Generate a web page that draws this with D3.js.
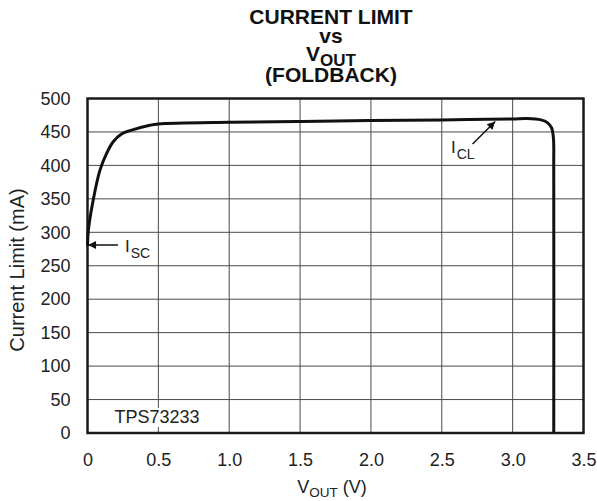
<!DOCTYPE html>
<html><head><meta charset="utf-8">
<script src="https://cdn.jsdelivr.net/npm/d3@7"></script>
<style>
html,body{margin:0;padding:0;background:#fff;}
svg{display:block;font-family:"Liberation Sans",Arial,sans-serif;}
</style></head>
<body>
<svg id="chart" width="597" height="501"></svg>
<script>
// ---- data ----
const vout   = [0, 0.006, 0.04, 0.088, 0.135, 0.18, 0.24, 0.30, 0.44, 0.5, 1.0, 1.5, 2.0, 2.5, 3.0, 3.1, 3.2, 3.245, 3.275, 3.288, 3.29, 3.29];
const ilimit = [280, 303, 348, 393, 418, 435, 447, 452, 460, 462, 464.5, 465.5, 467, 468, 469.5, 470, 468, 464, 456, 440, 400, 0];
const xTicks = [0, 0.5, 1.0, 1.5, 2.0, 2.5, 3.0, 3.5];
const xTickLabels = ["0", "0.5", "1.0", "1.5", "2.0", "2.5", "3.0", "3.5"];
const yTicks = [0, 50, 100, 150, 200, 250, 300, 350, 400, 450, 500];
const titleLines = ["CURRENT LIMIT", "vs", "V|OUT", "(FOLDBACK)"];
const deviceLabel = "TPS73233";
// annotations (data units)
const iscArrow = {from: [0.215, 281], to: [0.004, 281], label: ["I", "SC"], at: [0.265, 271]};
const iclArrow = {from: [2.717, 432], to: [2.877, 465.5], label: ["I", "CL"], at: [2.565, 418]};

// ---- layout ----
const svg = d3.select("#chart");
const L = 87.5, R = 583.5, T = 98.5, B = 433;
const x = d3.scaleLinear().domain([0, 3.5]).range([L, R]);
const y = d3.scaleLinear().domain([0, 500]).range([B, T]);
const FF = '"Liberation Sans",Arial,sans-serif';

// grid
const g = svg.append("g");
g.selectAll("line.vg").data(xTicks.slice(1, -1)).enter().append("line")
  .attr("x1", d => x(d)).attr("x2", d => x(d)).attr("y1", T).attr("y2", B)
  .attr("stroke", "#4a4a4a").attr("stroke-width", 1);
g.selectAll("line.hg").data(yTicks.slice(1, -1)).enter().append("line")
  .attr("x1", L).attr("x2", R).attr("y1", d => y(d)).attr("y2", d => y(d))
  .attr("stroke", "#4a4a4a").attr("stroke-width", 1);

// device label with white box
const dl = svg.append("text").attr("x", x(0.19)).attr("y", y(15))
  .attr("font-size", 18).attr("fill", "#222").text(deviceLabel);
const bb = dl.node().getBBox();
svg.insert("rect", "text").attr("x", bb.x - 3).attr("y", bb.y + 1).attr("width", bb.width + 6).attr("height", bb.height - 1).attr("fill", "#fff");

// frame
svg.append("rect").attr("x", L).attr("y", T).attr("width", R - L).attr("height", B - T)
  .attr("fill", "none").attr("stroke", "#1a1a1a").attr("stroke-width", 2.5);

// axes labels via d3 axes
const xAxis = d3.axisBottom(x).tickValues(xTicks).tickFormat((d, i) => xTickLabels[i]).tickSize(0).tickPadding(20);
const xa = svg.append("g").attr("transform", `translate(0,${B})`).call(xAxis);
xa.select(".domain").remove();
xa.selectAll("text").attr("font-size", 18).attr("fill", "#222").attr("font-family", FF);

const yAxis = d3.axisLeft(y).tickValues(yTicks).tickFormat(d3.format("d")).tickSize(0).tickPadding(17);
const ya = svg.append("g").attr("transform", `translate(${L},0)`).call(yAxis);
ya.select(".domain").remove();
ya.selectAll("text").attr("font-size", 18).attr("fill", "#222").attr("font-family", FF);

// curve
const line = d3.line().x((d, i) => x(vout[i])).y((d, i) => y(ilimit[i])).curve(d3.curveCatmullRom.alpha(0.5));
svg.append("path").attr("d", line(vout)).attr("fill", "none").attr("stroke", "#111")
  .attr("stroke-width", 3).attr("stroke-linejoin", "round");

// arrow marker
svg.append("defs").append("marker").attr("id", "ah").attr("viewBox", "0 0 10 10")
  .attr("refX", 10).attr("refY", 5).attr("markerWidth", 15).attr("markerHeight", 8)
  .attr("markerUnits", "userSpaceOnUse").attr("orient", "auto")
  .append("path").attr("d", "M0,0 L10,5 L0,10 Z").attr("fill", "#111");

function arrow(a) {
  svg.append("line").attr("x1", x(a.from[0])).attr("y1", y(a.from[1]))
    .attr("x2", x(a.to[0])).attr("y2", y(a.to[1]))
    .attr("stroke", "#111").attr("stroke-width", 1.5).attr("marker-end", "url(#ah)");
  const t = svg.append("text").attr("x", x(a.at[0])).attr("y", y(a.at[1]))
    .attr("font-size", 17).attr("fill", "#222");
  t.append("tspan").text(a.label[0]);
  t.append("tspan").attr("dy", 6).attr("dx", 1).attr("font-size", 14).text(a.label[1]);
}
arrow(iscArrow);
arrow(iclArrow);

// title
const cx = 331;
const tb = [24, 43, 61, 82];
titleLines.forEach((s, i) => {
  const t = svg.append("text").attr("x", cx).attr("y", tb[i]).attr("text-anchor", "middle")
    .attr("font-size", 21).attr("font-weight", "bold").attr("fill", "#111");
  const parts = s.split("|");
  t.append("tspan").text(parts[0]);
  if (parts[1]) t.append("tspan").attr("dy", 5).attr("font-size", 17).text(parts[1]);
});

// axis titles
const xt = svg.append("text").attr("x", 332).attr("y", 493).attr("text-anchor", "middle")
  .attr("font-size", 18).attr("fill", "#222");
xt.append("tspan").text("V");
xt.append("tspan").attr("dy", 4).attr("font-size", 13.5).text("OUT");
xt.append("tspan").attr("dy", -4).text(" (V)");

svg.append("text").attr("transform", "translate(24,270) rotate(-90)").attr("text-anchor", "middle")
  .attr("font-size", 20).attr("fill", "#222").text("Current Limit (mA)");
</script>
</body></html>
